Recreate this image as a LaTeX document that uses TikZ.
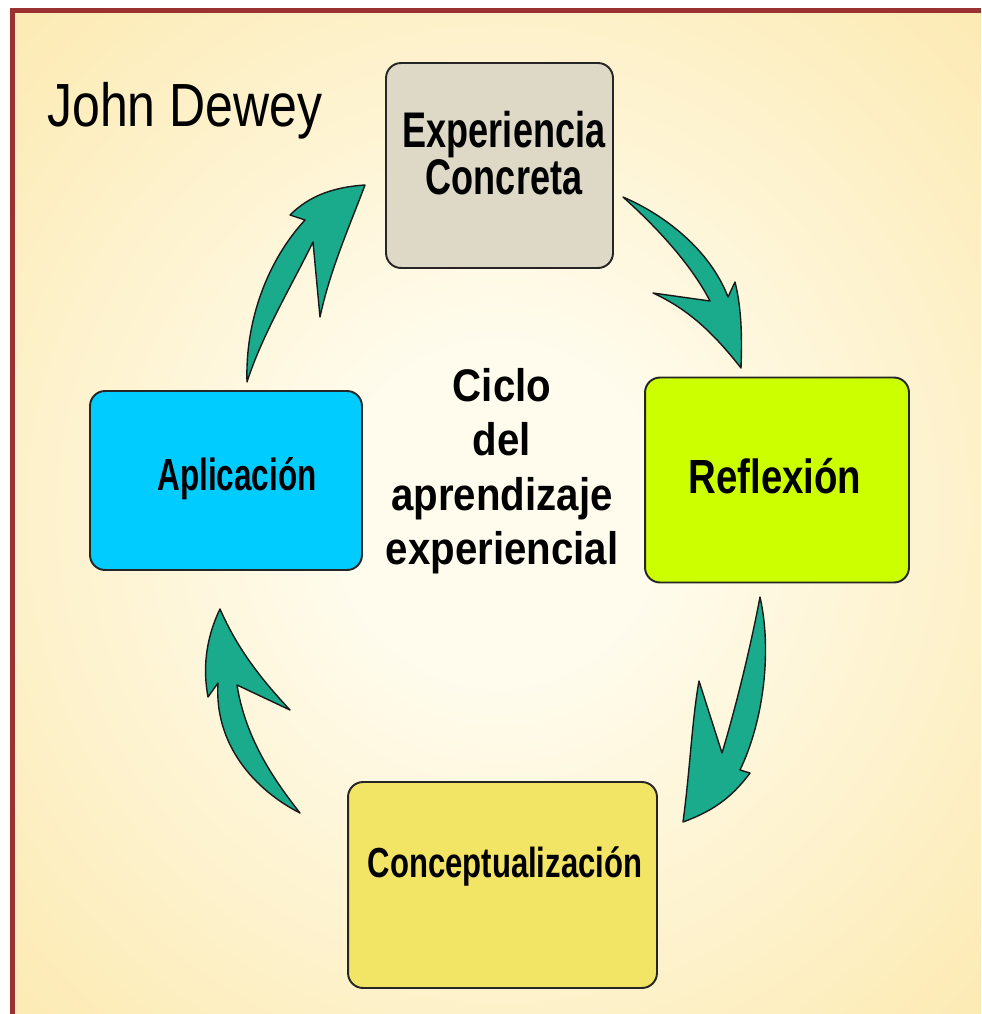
\documentclass[tikz,border=0pt]{standalone}
\usepackage{fontspec}
\setmainfont{Liberation Sans}
\usepackage{graphicx}
\usetikzlibrary{positioning}

\definecolor{frameRed}{HTML}{9A3232}
\definecolor{bgIn}{HTML}{FFFCEE}
\definecolor{bgOut}{HTML}{FADC82}
\definecolor{expGray}{HTML}{DDD9C6}
\definecolor{reflLime}{HTML}{CCFF00}
\definecolor{aplCyan}{HTML}{00CCFF}
\definecolor{concYellow}{HTML}{F2E464}
\definecolor{arrowTeal}{HTML}{1AAA8C}

\pgfdeclareradialshading{bgglow}{\pgfpoint{0bp}{0bp}}{color(0bp)=(bgIn); color(8bp)=(bgIn); color(58bp)=(bgOut); color(72bp)=(bgOut)}

\newcommand{\squeeze}[2]{\scalebox{#1}[1]{#2}}

\begin{document}
\begin{tikzpicture}[x=0.02cm,y=-0.02cm,
    stage/.style={draw=black!85, line width=1.1pt, rounded corners=0.3cm, inner sep=0pt},
    stagetext/.style={font=\bfseries\fontsize{#1}{27}\selectfont, inner sep=0pt, align=center},
    cyclearrow/.style={fill=arrowTeal, draw=black!90, line width=0.8pt, line join=round}]
  \useasboundingbox (0,0) rectangle (981,1014);

  % background and frame
  \shade[shading=bgglow] (15,13) rectangle (981,1014);
  \draw[frameRed, line width=0.1cm] (12.5,1014) -- (12.5,10.5) -- (981,10.5);

  % stages
  \node[stage, fill=expGray, minimum width=4.54cm, minimum height=4.10cm] (expBox) at (499.5,165.5) {};
  \node[stage, fill=reflLime, minimum width=5.28cm, minimum height=4.10cm] (reflBox) at (777,480) {};
  \node[stage, fill=aplCyan, minimum width=5.44cm, minimum height=3.58cm] (aplBox) at (226,480.5) {};
  \node[stage, fill=concYellow, minimum width=6.18cm, minimum height=4.12cm] (concBox) at (502.5,885) {};

  \node[stagetext=28.5] (expText) at (504,153) {\squeeze{0.72}{Experiencia}\\\squeeze{0.72}{Concreta}};
  \node[stagetext=27.3, anchor=base] (reflText) at (775,493) {\squeeze{0.8}{Reflexión}};
  \node[stagetext=25.6, anchor=base] (aplText) at (237,490) {\squeeze{0.7}{Aplicación}};
  \node[stagetext=23.9, anchor=base] (concText) at (505,877) {\squeeze{0.74}{Conceptualización}};

  % titles
  \node[anchor=base west, inner sep=0pt, font=\fontsize{34.7}{40}\selectfont] (dewey) at (47,126) {\squeeze{0.82}{John Dewey}};
  \node[align=center, inner sep=0pt, font=\bfseries\fontsize{26}{31}\selectfont] (cycleText) at (502,471)
    {\squeeze{0.88}{Ciclo}\\\squeeze{0.88}{del}\\\squeeze{0.88}{aprendizaje}\\\squeeze{0.88}{experiencial}};

  % arrows of the cycle
  \filldraw[cyclearrow] (623,197) .. controls (665,215) and (710,250) .. (728,297) -- (735,282)
    .. controls (742,310) and (742,340) .. (741,368) .. controls (715,335) and (690,310) .. (653,293)
    -- (710,301) .. controls (693,268) and (662,232) .. (623,197) -- cycle;
  \filldraw[cyclearrow] (760,597) .. controls (772,650) and (764,720) .. (740,770) -- (750,773)
    .. controls (730,800) and (710,812) .. (683,822) .. controls (690,770) and (692,720) .. (699,681)
    -- (722,753) .. controls (735,710) and (750,650) .. (760,597) -- cycle;
  \filldraw[cyclearrow] (300,813) .. controls (270,775) and (245,735) .. (237,685) -- (290,710)
    .. controls (262,680) and (238,650) .. (220,609) .. controls (205,640) and (203,670) .. (208,697)
    -- (218,683) .. controls (214,745) and (255,790) .. (300,813) -- cycle;
  \filldraw[cyclearrow] (247,382) .. controls (245,320) and (268,260) .. (305,220) -- (290,215)
    .. controls (310,195) and (335,187) .. (365,185) .. controls (350,225) and (330,270) .. (320,317)
    -- (313,242) .. controls (292,285) and (262,335) .. (247,382) -- cycle;
\end{tikzpicture}
\end{document}
